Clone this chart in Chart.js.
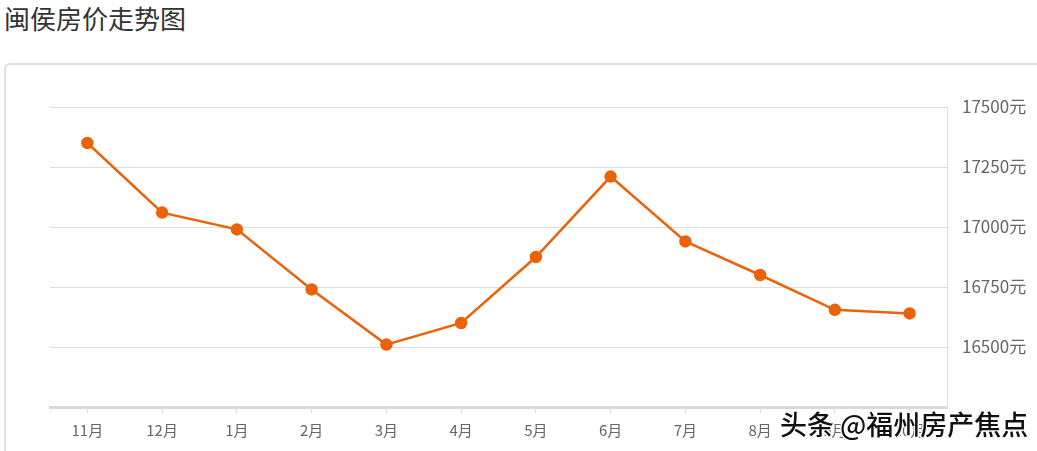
<!DOCTYPE html>
<html>
<head>
<meta charset="utf-8">
<script src="https://cdn.jsdelivr.net/npm/chart.js@4/dist/chart.umd.min.js"></script>
<style>
  body { margin: 0; background: #fff; width: 1037px; height: 451px; overflow: hidden; position: relative; font-family: "Noto Sans CJK SC", sans-serif; }
  #title { position: absolute; left: 4px; top: 0px; font-size: 26px; color: #333; line-height: 36px; }
  #panel { position: absolute; left: 4px; top: 63px; width: 1100px; height: 500px; border: 2px solid #dedede; border-radius: 6px; box-sizing: border-box; }
  #wrap { position: absolute; left: 0; top: 0; width: 1037px; height: 451px; }
  #mark { position: absolute; left: 780px; top: 406px; font-size: 27px; font-weight: 500; color: #111; line-height: 36px;
    text-shadow: 1px 1px 0 #fff, -1px -1px 0 #fff, 1px -1px 0 #fff, -1px 1px 0 #fff; }
</style>
</head>
<body>
<div id="title">闽侯房价走势图</div>
<div id="panel"></div>
<div id="wrap"><canvas id="myChart" width="1037" height="451"></canvas></div>
<div id="mark">头条 @福州房产焦点</div>
<script>
const months = ['11月', '12月', '1月', '2月', '3月', '4月', '5月', '6月', '7月', '8月', '9月', '10月'];
const prices = [17350, 17060, 16990, 16740, 16510, 16600, 16875, 17210, 16940, 16800, 16655, 16640];
const yTicks = [16500, 16750, 17000, 17250, 17500];

const orange = '#ec6208';

const data = {
  labels: months,
  datasets: [{
    label: '闽侯房价',
    data: prices,
    borderColor: orange,
    backgroundColor: orange,
    borderWidth: 2.5,
    pointRadius: 5,
    pointHoverRadius: 5,
    tension: 0
  }]
};

const config = {
  type: 'line',
  data: data,
  options: {
    responsive: false,
    animation: false,
    layout: { padding: { left: 50, top: 107, right: 0, bottom: 0 } },
    plugins: { legend: { display: false }, tooltip: { enabled: false } },
    scales: {
      x: {
        offset: true,
        grid: { offset: false, drawOnChartArea: false, drawTicks: true, tickLength: 6, color: '#dddddd' },
        border: { color: '#d9d9d9', width: 3 },
        ticks: { color: '#666', font: { size: 15, family: 'Noto Sans CJK SC' }, padding: 8, maxRotation: 0 },
        afterFit: (scale) => { scale.height = 44; }
      },
      y: {
        position: 'right',
        min: 16250,
        max: 17500,
        afterBuildTicks: (scale) => { scale.ticks = [16250].concat(yTicks).map(v => ({ value: v })); },
        grid: { color: '#dddddd', drawTicks: false },
        border: { color: '#dddddd', width: 1 },
        ticks: {
          color: '#666',
          font: { size: 17, family: 'Noto Sans CJK SC' },
          padding: 15,
          callback: (v) => yTicks.includes(v) ? v + '元' : ''
        },
        afterFit: (scale) => { scale.width = 90; }
      }
    }
  }
};

const myChart = new Chart(document.getElementById('myChart'), config);
</script>
</body>
</html>
